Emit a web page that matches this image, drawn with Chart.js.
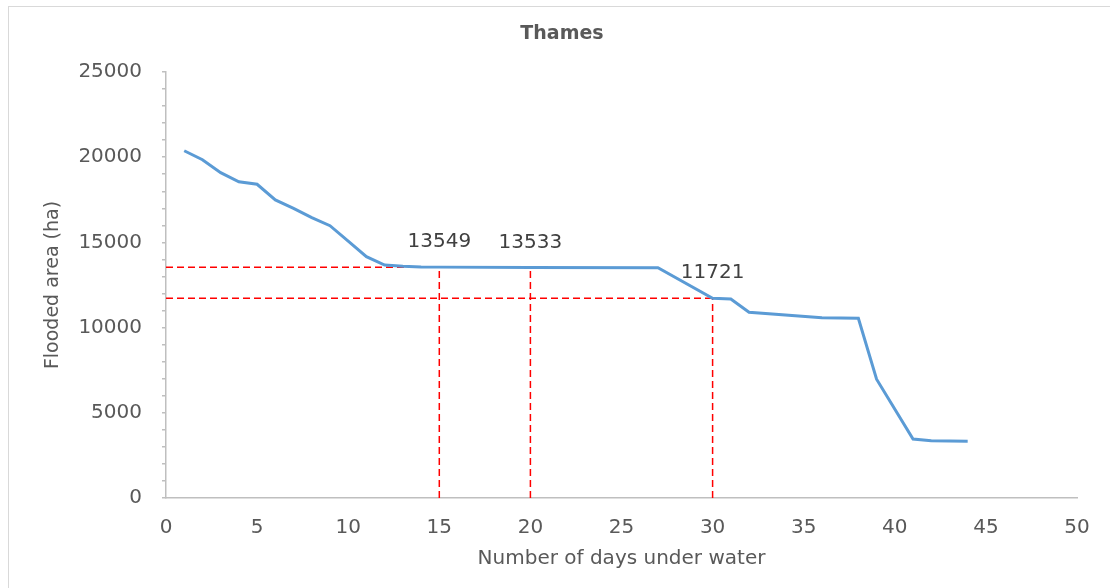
<!DOCTYPE html>
<html>
<head>
<meta charset="utf-8">
<script src="https://cdn.jsdelivr.net/npm/chart.js@4/dist/chart.umd.min.js"></script>
<style>
  body { margin: 0; background: #fff; overflow: hidden; }
  #wrap { position: relative; width: 1110px; height: 588px; }
  #frame { position: absolute; left: 8px; top: 6px; width: 1120px; height: 600px; border: 1px solid #d9d9d9; }
  canvas { position: absolute; left: 0; top: 0; }
</style>
</head>
<body>
<div id="wrap">
  <div id="frame"></div>
  <canvas id="chart" width="1110" height="588"></canvas>
</div>
<script>
// flooded area per day
const days = [1, 2, 3, 4, 5, 6, 7, 8, 9, 10, 11, 12, 13, 14, 15, 20, 27, 30, 31, 32, 36, 38, 39, 41, 42, 44];
const area = [20380, 19850, 19090, 18560, 18410, 17490, 17000, 16450, 15980, 15080, 14160, 13670, 13600, 13560, 13549, 13533, 13515, 11721, 11680, 10900, 10580, 10545, 6970, 3460, 3360, 3330];

// marked days and their values (red guides + labels)
const markDays = [15, 20, 30];
const markValues = [13549, 13533, 11721];

const grey = "#595959";
const axisGrey = "#bfbfbf";

// red dashed guide lines
const guides = [];
// horizontal guides from the y axis
guides.push([{ x: 0, y: markValues[0] }, { x: markDays[0], y: markValues[0] }]);
guides.push([{ x: 0, y: markValues[2] }, { x: markDays[2], y: markValues[2] }]);
// vertical guides down to the x axis
markDays.forEach((d, i) => guides.push([{ x: d, y: 0 }, { x: d, y: markValues[i] }]));

const labelPlugin = {
  id: "markLabels",
  afterDatasetsDraw(chart) {
    const { ctx, scales } = chart;
    ctx.save();
    ctx.textAlign = "center";
    ctx.textBaseline = "middle";
    // chart title, sits a bit right of the canvas centre like the original
    ctx.font = "bold 19px 'DejaVu Sans'";
    ctx.fillStyle = grey;
    ctx.fillText("Thames", 562, 34);
    // value labels above the guide lines
    ctx.font = "20px 'DejaVu Sans'";
    ctx.fillStyle = "#404040";
    markDays.forEach((d, i) => {
      const px = scales.x.getPixelForValue(d);
      const py = scales.y.getPixelForValue(markValues[i]);
      ctx.fillText(String(markValues[i]), px, py - 25);
    });
    ctx.restore();
  }
};

Chart.defaults.font.family = "'DejaVu Sans'";
Chart.defaults.color = grey;

const ctx = document.getElementById("chart").getContext("2d");
new Chart(ctx, {
  type: "line",
  data: {
    datasets: [
      {
        label: "Thames",
        data: days.map((d, i) => ({ x: d, y: area[i] })),
        borderColor: "#5b9bd5",
        borderWidth: 3,
        pointRadius: 0,
        tension: 0,
        fill: false
      },
      ...guides.map((pts) => ({
        data: pts,
        borderColor: "#ff0000",
        borderWidth: 1.5,
        borderDash: [7, 4],
        pointRadius: 0,
        fill: false
      }))
    ]
  },
  options: {
    responsive: false,
    animation: false,
    layout: { padding: { left: 0, right: 33, top: 72, bottom: 0 } },
    plugins: {
      legend: { display: false },
      tooltip: { enabled: false }
    },
    scales: {
      x: {
        type: "linear",
        min: 0,
        max: 50,
        ticks: { stepSize: 5, padding: 18, font: { size: 20 }, color: grey },
        grid: { drawOnChartArea: false, drawTicks: false },
        border: { color: axisGrey, width: 1.5 },
        title: {
          display: true,
          text: "Number of days under water",
          color: grey,
          font: { size: 20 },
          padding: { top: 0, bottom: 17 }
        },
        afterFit: (s) => { s.height = 90; }
      },
      y: {
        min: 0,
        max: 25000,
        ticks: {
          stepSize: 1000,
          autoSkip: false,
          padding: 20,
          font: { size: 20 },
          color: grey,
          callback: (v) => (v % 5000 === 0 ? String(v) : "")
        },
        grid: { drawOnChartArea: false, drawTicks: true, tickLength: 4, color: axisGrey, lineWidth: 1.5 },
        border: { color: axisGrey, width: 1.5 },
        title: {
          display: true,
          text: "Flooded area (ha)",
          color: grey,
          font: { size: 19 },
          padding: { top: 42, bottom: 0 }
        },
        afterFit: (s) => { s.width = 166; }
      }
    }
  },
  plugins: [labelPlugin]
});
</script>
</body>
</html>
